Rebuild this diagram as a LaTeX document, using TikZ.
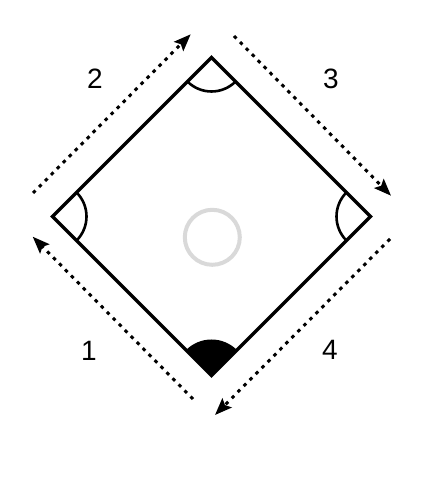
\documentclass[tikz,border=0pt]{standalone}
\usepackage{fontspec}
\setmainfont{Liberation Sans}
\usetikzlibrary{arrows.meta}
\begin{document}
\begin{tikzpicture}[x=1pt,y=1pt,
  edge/.style={line width=3.2pt, line join=miter},
  anglemark/.style={line width=2.6pt},
  runpath/.style={line width=3pt, dash pattern=on 3.5pt off 5pt,
    -{Stealth[length=17pt,width=13pt,inset=3pt]}},
  lbl/.style={font=\fontsize{28}{32}\selectfont, inner sep=0pt},
  ring/.style={line width=4pt, draw=black!15}]
\useasboundingbox (0,0) rectangle (436,500);
% diamond vertices
\coordinate (T) at (211.5,442.5);
\coordinate (R) at (370.5,283.5);
\coordinate (B) at (211.5,124.5);
\coordinate (L) at (52.5,283.5);
\coordinate (C) at (212.3,262.7);
% bottom filled sector
\fill (B) -- ++(45:36) arc[start angle=45,end angle=135,radius=36] -- cycle;
% diamond
\draw[edge] (T) -- (R) -- (B) -- (L) -- cycle;
% angle marks
\draw[anglemark] (T) ++(225:34) arc[start angle=225,end angle=315,radius=34];
\draw[anglemark] (L) ++(-45:34) arc[start angle=-45,end angle=45,radius=34];
\draw[anglemark] (R) ++(135:34) arc[start angle=135,end angle=225,radius=34];
% centre ring
\draw[ring] (C) circle[radius=27.5];
% running paths
\coordinate (a2s) at (33,307);
\coordinate (a2e) at (190.7,465.7);
\coordinate (a3s) at (234,464);
\coordinate (a3e) at (391,304.3);
\coordinate (a4s) at (390,261);
\coordinate (a4e) at (215,85);
\coordinate (a1s) at (193,101);
\coordinate (a1e) at (32.7,263.3);
\draw[runpath] (a1s) -- (a1e);
\draw[runpath] (a2s) -- (a2e);
\draw[runpath] (a3s) -- (a3e);
\draw[runpath] (a4s) -- (a4e);
% labels
\node[lbl] (n2) at (95,421) {2};
\node[lbl] (n3) at (331,421) {3};
\node[lbl] (n1) at (89,149) {1};
\node[lbl] (n4) at (330,150) {4};
\end{tikzpicture}
\end{document}
